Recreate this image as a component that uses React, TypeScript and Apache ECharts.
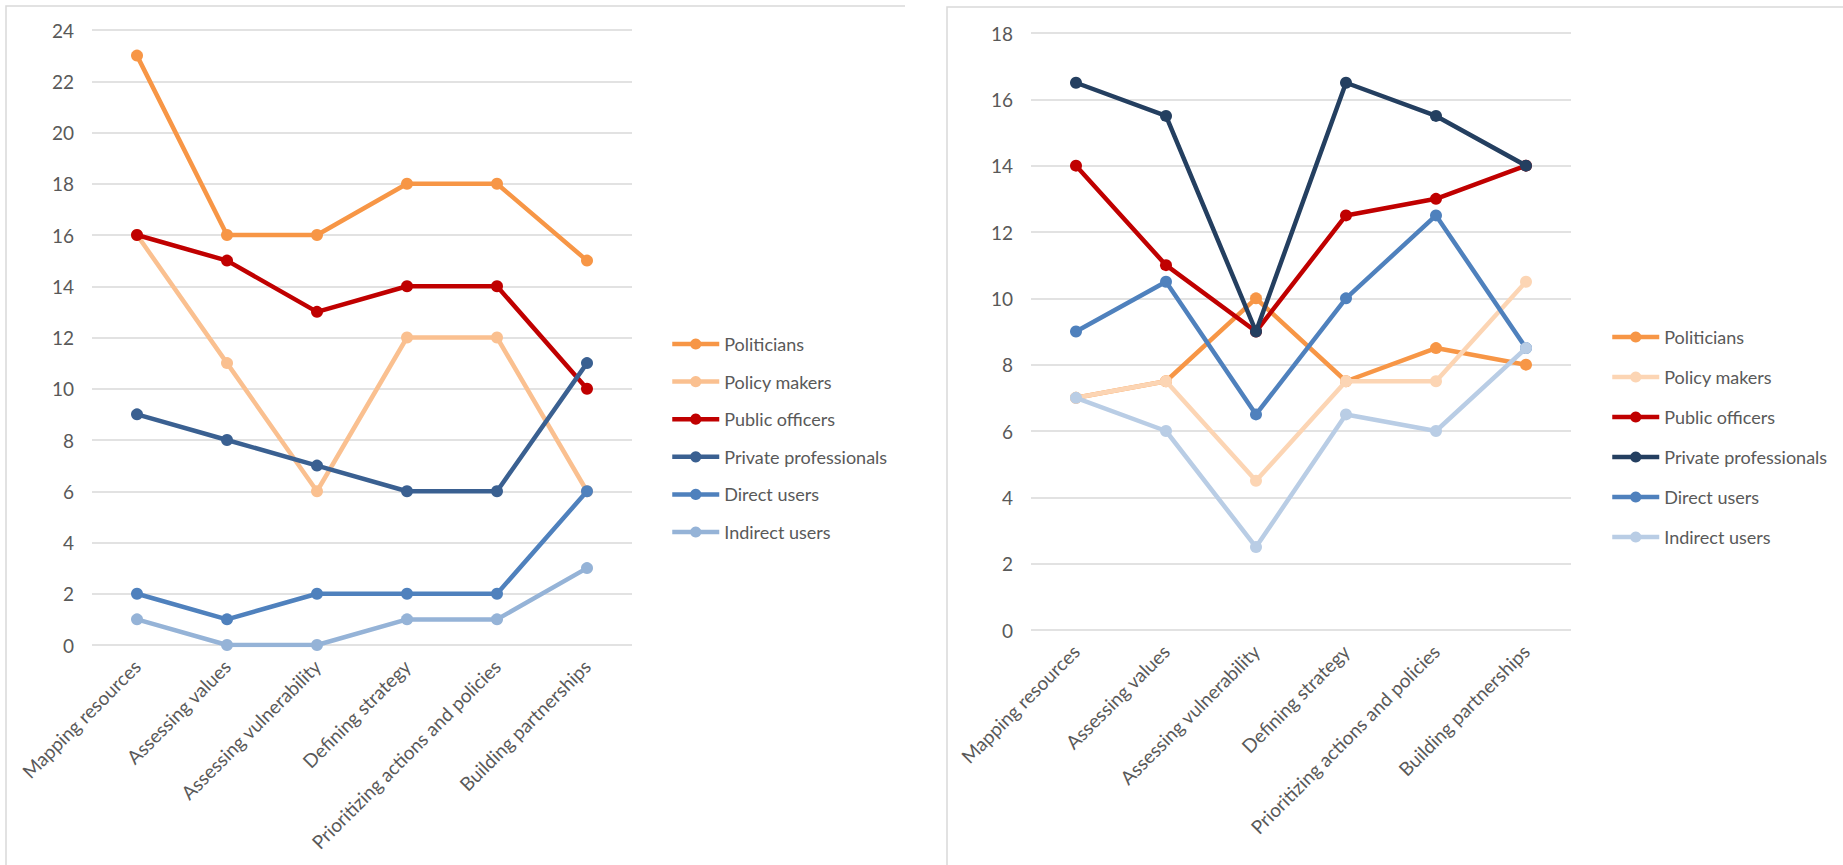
import React, { useEffect, useRef } from "react";
import * as echarts from "echarts";

// Shared categories and series names
const categories = [
  "Mapping resources",
  "Assessing values",
  "Assessing vulnerability",
  "Defining strategy",
  "Prioritizing actions and policies",
  "Building partnerships",
];
const seriesNames = [
  "Politicians",
  "Policy makers",
  "Public officers",
  "Private professionals",
  "Direct users",
  "Indirect users",
];

// Left panel values
const leftPoliticians = [23, 16, 16, 18, 18, 15];
const leftPolicyMakers = [16, 11, 6, 12, 12, 6];
const leftPublicOfficers = [16, 15, 13, 14, 14, 10];
const leftPrivateProfessionals = [9, 8, 7, 6, 6, 11];
const leftDirectUsers = [2, 1, 2, 2, 2, 6];
const leftIndirectUsers = [1, 0, 0, 1, 1, 3];
const leftYTicks = [0, 2, 4, 6, 8, 10, 12, 14, 16, 18, 20, 22, 24];

// Right panel values
const rightPoliticians = [7, 7.5, 10, 7.5, 8.5, 8];
const rightPolicyMakers = [7, 7.5, 4.5, 7.5, 7.5, 10.5];
const rightPublicOfficers = [14, 11, 9, 12.5, 13, 14];
const rightPrivateProfessionals = [16.5, 15.5, 9, 16.5, 15.5, 14];
const rightDirectUsers = [9, 10.5, 6.5, 10, 12.5, 8.5];
const rightIndirectUsers = [7, 6, 2.5, 6.5, 6, 8.5];
const rightYTicks = [0, 2, 4, 6, 8, 10, 12, 14, 16, 18];

const leftColors = ["#F79646", "#FAC090", "#C00000", "#3A6091", "#4F81BD", "#95B3D7"];
const rightColors = ["#F79646", "#FCD5B4", "#C00000", "#243F60", "#4F81BD", "#B9CDE5"];

const FONT = "Lato, 'Open Sans', sans-serif";
const TEXT = "#595959";
const GRID_LINE = "#D9D9D9";

type PanelProps = {
  left: number;
  width: number;
  values: number[][];
  colors: string[];
  yTicks: number[];
  gridLeft: number;
  gridTop: number;
  gridBottom: number;
  legendLeft: number;
  legendTop: number;
  legendGap: number;
  frame: number[][];
};

function LinePanel(p: PanelProps) {
  const ref = useRef<HTMLDivElement>(null);

  useEffect(() => {
    if (!ref.current) return;
    const chart = echarts.init(ref.current, undefined, { renderer: "svg" });
    const interval = p.yTicks[1] - p.yTicks[0];
    chart.setOption({
      animation: false,
      textStyle: { fontFamily: FONT },
      graphic: [
        {
          type: "polyline",
          shape: { points: p.frame },
          style: { stroke: GRID_LINE, lineWidth: 1.5, fill: "none" },
          silent: true,
        },
      ],
      grid: {
        left: p.gridLeft,
        width: 540,
        top: p.gridTop,
        bottom: p.gridBottom,
        containLabel: false,
      },
      legend: {
        orient: "vertical",
        left: p.legendLeft,
        top: p.legendTop,
        itemWidth: 47,
        itemHeight: 14,
        itemGap: p.legendGap,
        data: seriesNames,
        lineStyle: { width: 4.5 },
        textStyle: {
          fontFamily: FONT,
          fontSize: 18,
          color: TEXT,
          lineHeight: 22,
        },
      },
      xAxis: {
        type: "category",
        data: categories,
        boundaryGap: true,
        axisLine: { show: false },
        axisTick: { show: false },
        axisLabel: {
          rotate: 45,
          interval: 0,
          margin: 18,
          fontFamily: FONT,
          fontSize: 19,
          color: TEXT,
        },
      },
      yAxis: {
        type: "value",
        min: p.yTicks[0],
        max: p.yTicks[p.yTicks.length - 1],
        interval,
        axisLine: { show: false },
        axisTick: { show: false },
        axisLabel: {
          margin: 18,
          fontFamily: FONT,
          fontSize: 19,
          color: TEXT,
        },
        splitLine: { lineStyle: { color: GRID_LINE, width: 1.5 } },
      },
      series: seriesNames.map((name, i) => ({
        type: "line",
        name,
        data: p.values[i],
        symbol: "circle",
        symbolSize: 12,
        z: 2 + i,
        lineStyle: { color: p.colors[i], width: 4.5 },
        itemStyle: { color: p.colors[i] },
      })),
    });
    return () => chart.dispose();
  }, []);

  return (
    <div
      ref={ref}
      style={{ position: "absolute", left: p.left, top: 0, width: p.width, height: 865 }}
    />
  );
}

export default function App() {
  return (
    <div
      style={{
        position: "absolute",
        left: 0,
        top: 0,
        width: 1843,
        height: 865,
        background: "#ffffff",
        overflow: "hidden",
      }}
    >
      <LinePanel
        left={0}
        width={920}
        values={[
          leftPoliticians,
          leftPolicyMakers,
          leftPublicOfficers,
          leftPrivateProfessionals,
          leftDirectUsers,
          leftIndirectUsers,
        ]}
        colors={leftColors}
        yTicks={leftYTicks}
        gridLeft={92}
        gridTop={30}
        gridBottom={220}
        legendLeft={665}
        legendTop={328}
        legendGap={15.6}
        frame={[
          [6, 900],
          [6, 6],
          [905, 6],
        ]}
      />
      <LinePanel
        left={920}
        width={923}
        values={[
          rightPoliticians,
          rightPolicyMakers,
          rightPublicOfficers,
          rightPrivateProfessionals,
          rightDirectUsers,
          rightIndirectUsers,
        ]}
        colors={rightColors}
        yTicks={rightYTicks}
        gridLeft={111}
        gridTop={33}
        gridBottom={235}
        legendLeft={685}
        legendTop={321}
        legendGap={18}
        frame={[
          [27, 900],
          [27, 7],
          [1000, 7],
        ]}
      />
    </div>
  );
}
